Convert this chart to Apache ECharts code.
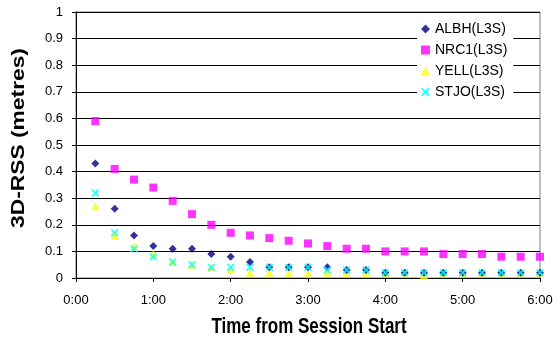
<!DOCTYPE html>
<html><head><meta charset="utf-8">
<script src="https://cdn.jsdelivr.net/npm/echarts@6/dist/echarts.min.js"></script>
<style>html,body{margin:0;padding:0;background:#fff}#c{width:560px;height:345px}</style>
</head><body><div id="c"></div>
<script>
// minutes from session start
var times = [15,30,45,60,75,90,105,120,135,150,165,180,195,210,225,240,255,270,285,300,315,330,345,360];
var albh = [0.43,0.26,0.16,0.12,0.11,0.11,0.09,0.08,0.06,0.04,0.04,0.04,0.04,0.03,0.03,0.02,0.02,0.02,0.02,0.02,0.02,0.02,0.02,0.02];
var nrc1 = [0.59,0.41,0.37,0.34,0.29,0.24,0.20,0.17,0.16,0.15,0.14,0.13,0.12,0.11,0.11,0.10,0.10,0.10,0.09,0.09,0.09,0.08,0.08,0.08];
var yell = [0.27,0.16,0.12,0.09,0.06,0.05,0.04,0.03,0.02,0.02,0.02,0.02,0.02,0.02,0.02,0.02,0.02,0.01,0.02,0.02,0.02,0.02,0.02,0.02];
var stjo = [0.32,0.17,0.11,0.08,0.06,0.05,0.04,0.04,0.04,0.04,0.04,0.04,0.03,0.03,0.03,0.02,0.02,0.02,0.02,0.02,0.02,0.02,0.02,0.02];
var seriesNames = ['ALBH(L3S)','NRC1(L3S)','YELL(L3S)','STJO(L3S)'];
var yTitle = '3D-RSS (metres)';
var xTitle = 'Time from Session Start';

function pair(v){ return times.map(function(t,i){ return [t, v[i]]; }); }
var xSym = 'path://M1,0 L3,2 L5,0 L6,1 L4,3 L6,5 L5,6 L3,4 L1,6 L0,5 L2,3 L0,1 Z';
var font = 'Liberation Sans, Arial, sans-serif';
var chart = echarts.init(document.getElementById('c'));
chart.setOption({
  animation: false,
  backgroundColor: '#fff',
  grid: {left: 76, right: 20, top: 12, bottom: 67, show: true, borderColor: '#808080', borderWidth: 1},
  xAxis: {
    type: 'value', min: 0, max: 360, interval: 60,
    axisLine: {lineStyle: {color: '#000'}},
    axisTick: {show: true, length: 4, lineStyle: {color: '#000'}},
    axisLabel: {fontFamily: font, fontSize: 13, color: '#000', margin: 16,
      formatter: function(v){ var h = Math.floor(v/60), m = v%60; return h + ':' + (m<10?'0':'') + m; }},
    splitLine: {show: false}
  },
  yAxis: {
    type: 'value', min: 0, max: 1, interval: 0.1,
    axisLine: {show: true, lineStyle: {color: '#000'}},
    axisTick: {show: true, length: 4, lineStyle: {color: '#000'}},
    axisLabel: {fontFamily: font, fontSize: 13, color: '#000', margin: 13,
      formatter: function(v){ return (Math.round(v*10)/10).toString(); }},
    splitLine: {show: true, lineStyle: {color: '#000', width: 1}}
  },
  graphic: [
    {type: 'text', x: 309, y: 327, scaleY: 1.25,
      style: {text: xTitle, font: 'bold 17px Liberation Sans, Arial, sans-serif', fill: '#000', textAlign: 'center', textVerticalAlign: 'middle'}},
    {type: 'text', x: 19, y: 138, rotation: Math.PI/2, scaleX: 1.2,
      style: {text: yTitle, font: 'bold 19px Liberation Sans, Arial, sans-serif', fill: '#000', textAlign: 'center', textVerticalAlign: 'middle'}}
  ],
  legend: {
    orient: 'vertical', left: 417, top: 18, backgroundColor: '#fff',
    padding: [4, 6, 4, 4], itemGap: 7, itemWidth: 9, itemHeight: 9,
    textStyle: {fontFamily: font, fontSize: 14, color: '#000'},
    data: seriesNames
  },
  series: [
    {name: seriesNames[0], type: 'scatter', data: pair(albh), symbol: 'diamond', symbolSize: 8, itemStyle: {color: '#000080'}, z: 4},
    {name: seriesNames[1], type: 'scatter', data: pair(nrc1), symbol: 'rect', symbolSize: 8, itemStyle: {color: '#FF00FF'}, z: 3},
    {name: seriesNames[2], type: 'scatter', data: pair(yell), symbol: 'triangle', symbolSize: 8, itemStyle: {color: '#FFFF00'}, z: 2},
    {name: seriesNames[3], type: 'scatter', data: pair(stjo), symbol: xSym, symbolSize: 8, itemStyle: {color: '#00FFFF'}, z: 5}
  ]
});
</script>
</body></html>
